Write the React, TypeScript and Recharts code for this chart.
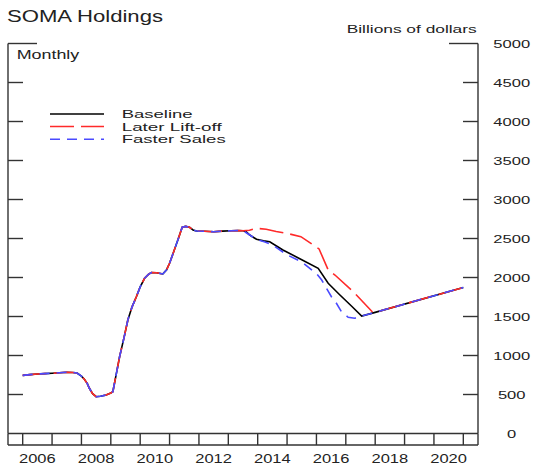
import React from "react";
import { LineChart, Line, XAxis, YAxis, Legend } from "recharts";

// shared history (monthly SOMA holdings, billions of dollars)
const historyYears = [
  2006.0, 2006.25, 2006.5, 2006.75, 2007.0, 2007.25, 2007.5, 2007.7, 2007.85, 2008.0,
  2008.1, 2008.2, 2008.27, 2008.38, 2008.5, 2008.65, 2008.84, 2009.0, 2009.07, 2009.3,
  2009.45, 2009.58, 2009.72, 2009.87, 2010.0, 2010.15, 2010.28, 2010.38, 2010.55, 2010.77,
  2010.9, 2011.0, 2011.15, 2011.3, 2011.43, 2011.55, 2011.68, 2011.8, 2011.91, 2012.2,
  2012.5, 2012.8, 2013.1, 2013.35, 2013.5,
];
const historyValues = [
  745, 755, 762, 768, 772, 778, 785, 783, 775, 735,
  695, 640, 580, 510, 472, 478, 494, 520, 535, 985,
  1230, 1455, 1620, 1754, 1880, 1990, 2040, 2062, 2060, 2045,
  2100, 2182, 2340, 2500, 2644, 2655, 2644, 2610, 2596, 2592,
  2587, 2595, 2600, 2602, 2600,
];

// projections
const baselineYears = [2013.6, 2013.73, 2013.96, 2014.2, 2014.41, 2014.86, 2015.5, 2016.06, 2016.4, 2016.8, 2017.2, 2017.54];
const baselineValues = [2590, 2545, 2490, 2470, 2459, 2353, 2228, 2118, 1926, 1776, 1631, 1506];

const liftoffYears = [2013.72, 2013.95, 2014.29, 2014.63, 2015.08, 2015.47, 2016.09, 2016.4, 2016.63, 2017.25, 2017.93];
const liftoffValues = [2605, 2631, 2619, 2590, 2558, 2524, 2366, 2096, 2032, 1819, 1549];

const fasterYears = [2013.73, 2013.96, 2014.25, 2014.5, 2015.0, 2015.5, 2016.0, 2016.18, 2016.34, 2016.51, 2016.68, 2016.85, 2017.08, 2017.3, 2017.54];
const fasterValues = [2545, 2488, 2455, 2420, 2290, 2200, 2050, 1968, 1862, 1754, 1669, 1562, 1490, 1477, 1506];

// common tail once all scenarios rejoin
const tailYears = [2018.0, 2021.0];
const tailValues = [1553, 1872];

const yTicks = [0, 500, 1000, 1500, 2000, 2500, 3000, 3500, 4000, 4500, 5000];
const yearTicks = [2005.5, 2006, 2007, 2008, 2009, 2010, 2011, 2012, 2013, 2014, 2015, 2016, 2017, 2018, 2019, 2020, 2021, 2021.5];
const labelYears = [2006, 2008, 2010, 2012, 2014, 2016, 2018, 2020];

const FONT = "'Liberation Sans', Arial, Helvetica, sans-serif";
const TEXT = "#222";
const AXIS = "#333";

const toPoints = (years: number[], values: number[]) =>
  years.map((year, i) => ({ year, value: values[i] }));

const baselineData = toPoints(
  [...historyYears, ...baselineYears, ...tailYears],
  [...historyValues, ...baselineValues, ...tailValues]
);
const liftoffData = toPoints(
  [...historyYears, ...liftoffYears, ...tailYears],
  [...historyValues, ...liftoffValues, ...tailValues]
);
const fasterData = toPoints(
  [...historyYears, ...fasterYears, ...tailYears],
  [...historyValues, ...fasterValues, ...tailValues]
);

const series = [
  { name: "Baseline", data: baselineData, color: "#000000", dash: undefined, textWidth: 71 },
  { name: "Later Lift-off", data: liftoffData, color: "#ff2a2a", dash: "24 7", textWidth: 100 },
  { name: "Faster Sales", data: fasterData, color: "#4a4aff", dash: "10 7", textWidth: 104 },
];

const EmptyTick = () => <g />;

const LeftTick = (props: any) => {
  const { x, y, payload } = props;
  if (payload.value === 0) return <g />;
  const len = payload.value === 5000 ? 29 : 15;
  return <line x1={x} x2={x + len} y1={y} y2={y} stroke={AXIS} strokeWidth={1.4} />;
};

const RightTick = (props: any) => {
  const { x, y, payload } = props;
  const len = payload.value === 5000 ? 29 : 15;
  const label = String(payload.value);
  return (
    <g>
      {payload.value > 0 && (
        <line x1={x - len} x2={x} y1={y} y2={y} stroke={AXIS} strokeWidth={1.4} />
      )}
      <text
        x={x + 33.7}
        y={y + 4.2}
        textAnchor="middle"
        fontFamily={FONT}
        fontSize={11.5}
        fill={TEXT}
        textLength={label.length * 9.2}
        lengthAdjust="spacingAndGlyphs"
      >
        {label}
      </text>
    </g>
  );
};

const YearLabel = (props: any) => {
  const { x, y, payload } = props;
  return (
    <text
      x={x}
      y={y + 17.5}
      textAnchor="middle"
      fontFamily={FONT}
      fontSize={12}
      fill={TEXT}
      textLength={36.7}
      lengthAdjust="spacingAndGlyphs"
    >
      {Math.floor(payload.value)}
    </text>
  );
};

const LegendBox = () => {
  const rows = [14, 26.5, 39.3];
  return (
    <svg width={200} height={50} style={{ display: "block", overflow: "visible" }}>
      {series.map((s, i) => (
        <g key={s.name}>
          <line
            x1={10}
            x2={64}
            y1={rows[i]}
            y2={rows[i]}
            stroke={s.color}
            strokeWidth={1.5}
            strokeDasharray={s.dash}
          />
          <text
            x={81.7}
            y={rows[i] + 4}
            fontFamily={FONT}
            fontSize={11.5}
            fill={TEXT}
            textLength={s.textWidth}
            lengthAdjust="spacingAndGlyphs"
          >
            {s.name}
          </text>
        </g>
      ))}
    </svg>
  );
};

export default function App() {
  return (
    <div style={{ position: "absolute", left: 0, top: 0, width: 534, height: 464, background: "#fff" }}>
      <LineChart width={534} height={464} margin={{ top: 43.5, right: 0, bottom: 0, left: 0 }}>
        <XAxis
          xAxisId="a-ticks"
          type="number"
          dataKey="year"
          domain={[2005.5, 2021.5]}
          allowDataOverflow
          ticks={yearTicks}
          interval={0}
          height={11.5}
          tickSize={11.5}
          tickMargin={0}
          tick={<EmptyTick />}
          tickLine={{ stroke: AXIS, strokeWidth: 1.4 }}
          axisLine={{ stroke: AXIS, strokeWidth: 1.4 }}
        />
        <XAxis
          xAxisId="b-labels"
          type="number"
          dataKey="year"
          domain={[2005.5, 2021.5]}
          allowDataOverflow
          ticks={labelYears.map((y) => y + 0.5)}
          interval={0}
          height={19}
          tickSize={0}
          tickMargin={0}
          tickLine={false}
          tick={<YearLabel />}
          axisLine={{ stroke: AXIS, strokeWidth: 1.4 }}
        />
        <YAxis
          yAxisId="left"
          orientation="left"
          width={8}
          domain={[0, 5000]}
          allowDataOverflow
          ticks={yTicks}
          interval={0}
          tickSize={0}
          tickMargin={0}
          tickLine={false}
          tick={<LeftTick />}
          axisLine={{ stroke: AXIS, strokeWidth: 1.4 }}
        />
        <YAxis
          yAxisId="right"
          orientation="right"
          width={56}
          domain={[0, 5000]}
          allowDataOverflow
          ticks={yTicks}
          interval={0}
          tickSize={0}
          tickMargin={0}
          tickLine={false}
          tick={<RightTick />}
          axisLine={{ stroke: AXIS, strokeWidth: 1.4 }}
        />
        <Legend
          layout="vertical"
          align="center"
          verticalAlign="middle"
          wrapperStyle={{ left: 40, top: 100, width: 200, height: 50 }}
          content={<LegendBox />}
        />
        {series.map((s) => (
          <Line
            key={s.name}
            xAxisId="a-ticks"
            yAxisId="left"
            data={s.data}
            dataKey="value"
            name={s.name}
            type="linear"
            stroke={s.color}
            strokeWidth={1.6}
            strokeDasharray={s.dash}
            dot={false}
            activeDot={false}
            isAnimationActive={false}
          />
        ))}
      </LineChart>
      <svg
        width={534}
        height={464}
        style={{ position: "absolute", left: 0, top: 0, pointerEvents: "none" }}
      >
        <text x={7} y={21.5} fontFamily={FONT} fontSize={16} fill={TEXT} textLength={156} lengthAdjust="spacingAndGlyphs">
          SOMA Holdings
        </text>
        <text x={346.7} y={33} fontFamily={FONT} fontSize={11} fill={TEXT} textLength={130} lengthAdjust="spacingAndGlyphs">
          Billions of dollars
        </text>
        <text x={16.7} y={58.5} fontFamily={FONT} fontSize={12} fill={TEXT} textLength={62.6} lengthAdjust="spacingAndGlyphs">
          Monthly
        </text>
      </svg>
    </div>
  );
}
